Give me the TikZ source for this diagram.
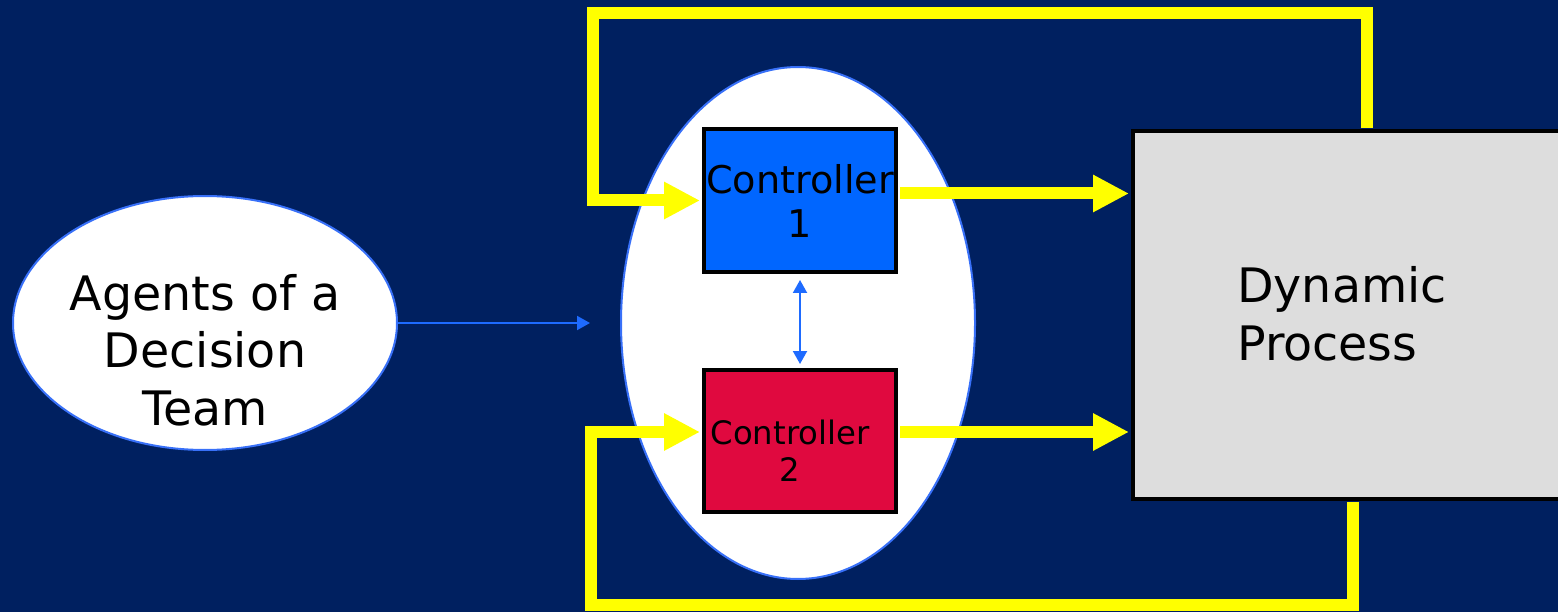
\documentclass[tikz,border=0pt]{standalone}
\usepackage{fontspec}
\setmainfont{DejaVu Sans}
\usetikzlibrary{arrows.meta,shapes.geometric,calc}
\definecolor{slide}{HTML}{002060}
\definecolor{ovalline}{HTML}{3870F8}
\definecolor{linkblue}{HTML}{1E6BFF}
\definecolor{ctrlblue}{HTML}{0066FF}
\definecolor{ctrlred}{HTML}{E0093F}
\definecolor{plant}{HTML}{DDDDDD}
\definecolor{feedyellow}{HTML}{FFFF00}
\begin{document}
\begin{tikzpicture}[x=1pt,y=-1pt,
  oval/.style={ellipse, draw=ovalline, line width=2pt, fill=white, inner sep=0pt},
  ctrlbox/.style={rectangle, draw=black, line width=4pt, inner sep=0pt,
    minimum width=192pt, minimum height=143pt, align=center},
  feed/.style={draw=feedyellow, line width=12pt, line join=miter,
    -{Triangle[length=36pt,width=35pt]}},
  link/.style={draw=linkblue, line width=2pt, -{Triangle[length=13pt,width=14pt]}},
  biglabel/.style={font=\fontsize{47.5pt}{57.5pt}\selectfont, inner sep=0pt, text=black}
]
\useasboundingbox (0,0) rectangle (1558,612);
\clip (0,0) rectangle (1558,612);
\fill[slide] (0,0) rectangle (1558,612);

% team and the controller group
\node[oval, minimum width=384pt, minimum height=254pt] (agents) at (205,323) {};
\node[biglabel, align=center] (agentstext) at (205,350) {Agents of a\\Decision\\Team};
\node[oval, minimum width=354pt, minimum height=512pt] (group) at (798,323) {};

% controllers
\node[ctrlbox, fill=ctrlblue, font=\fontsize{38.2pt}{44pt}\selectfont] (ctrl1) at (800,200.5) {Controller\\1};
\node[ctrlbox, fill=ctrlred, minimum height=142pt,
  label={[name=ctrl2text, font=\fontsize{32.3pt}{37pt}\selectfont, align=center,
          inner sep=0pt, xshift=-10pt, yshift=-10pt]center:Controller\\2}] (ctrl2) at (800,441) {};

% process under control
\node[rectangle, draw=black, line width=4pt, fill=plant, inner sep=0pt,
  minimum width=467pt, minimum height=368pt] (dp) at (1366.5,315) {};
\node[biglabel, align=left, anchor=west] (dptext) at (1237,314) {Dynamic\\Process};

% corners of the feedback loops
\coordinate (topleft) at (593,13);
\coordinate (botleft) at (591,605);
\coordinate (agin) at (590,323);

% feedback loops from the process back to each controller
\draw[feed] ([yshift=0.5pt]dp.north) |- (topleft) |- ([xshift=-2pt]ctrl1.west);
\draw[feed] ([xshift=-14pt,yshift=-0.5pt]dp.south) |- (botleft) |- ([xshift=-2pt,yshift=9pt]ctrl2.west);

% control actions into the process
\coordinate (c1out) at ([xshift=2pt,yshift=7pt]ctrl1.east);
\coordinate (c2out) at ([xshift=2pt,yshift=9pt]ctrl2.east);
\draw[feed] (c1out) -- ($(dp.west |- c1out)+(-2pt,0pt)$);
\draw[feed] (c2out) -- ($(dp.west |- c2out)+(-2pt,0pt)$);

% information links
\draw[link] (agents.east) -- (agin);
\draw[link, {Triangle[length=13pt,width=14pt]}-{Triangle[length=13pt,width=14pt]}]
  ([yshift=-6pt]ctrl1.south) -- ([yshift=4pt]ctrl2.north);
\end{tikzpicture}
\end{document}
